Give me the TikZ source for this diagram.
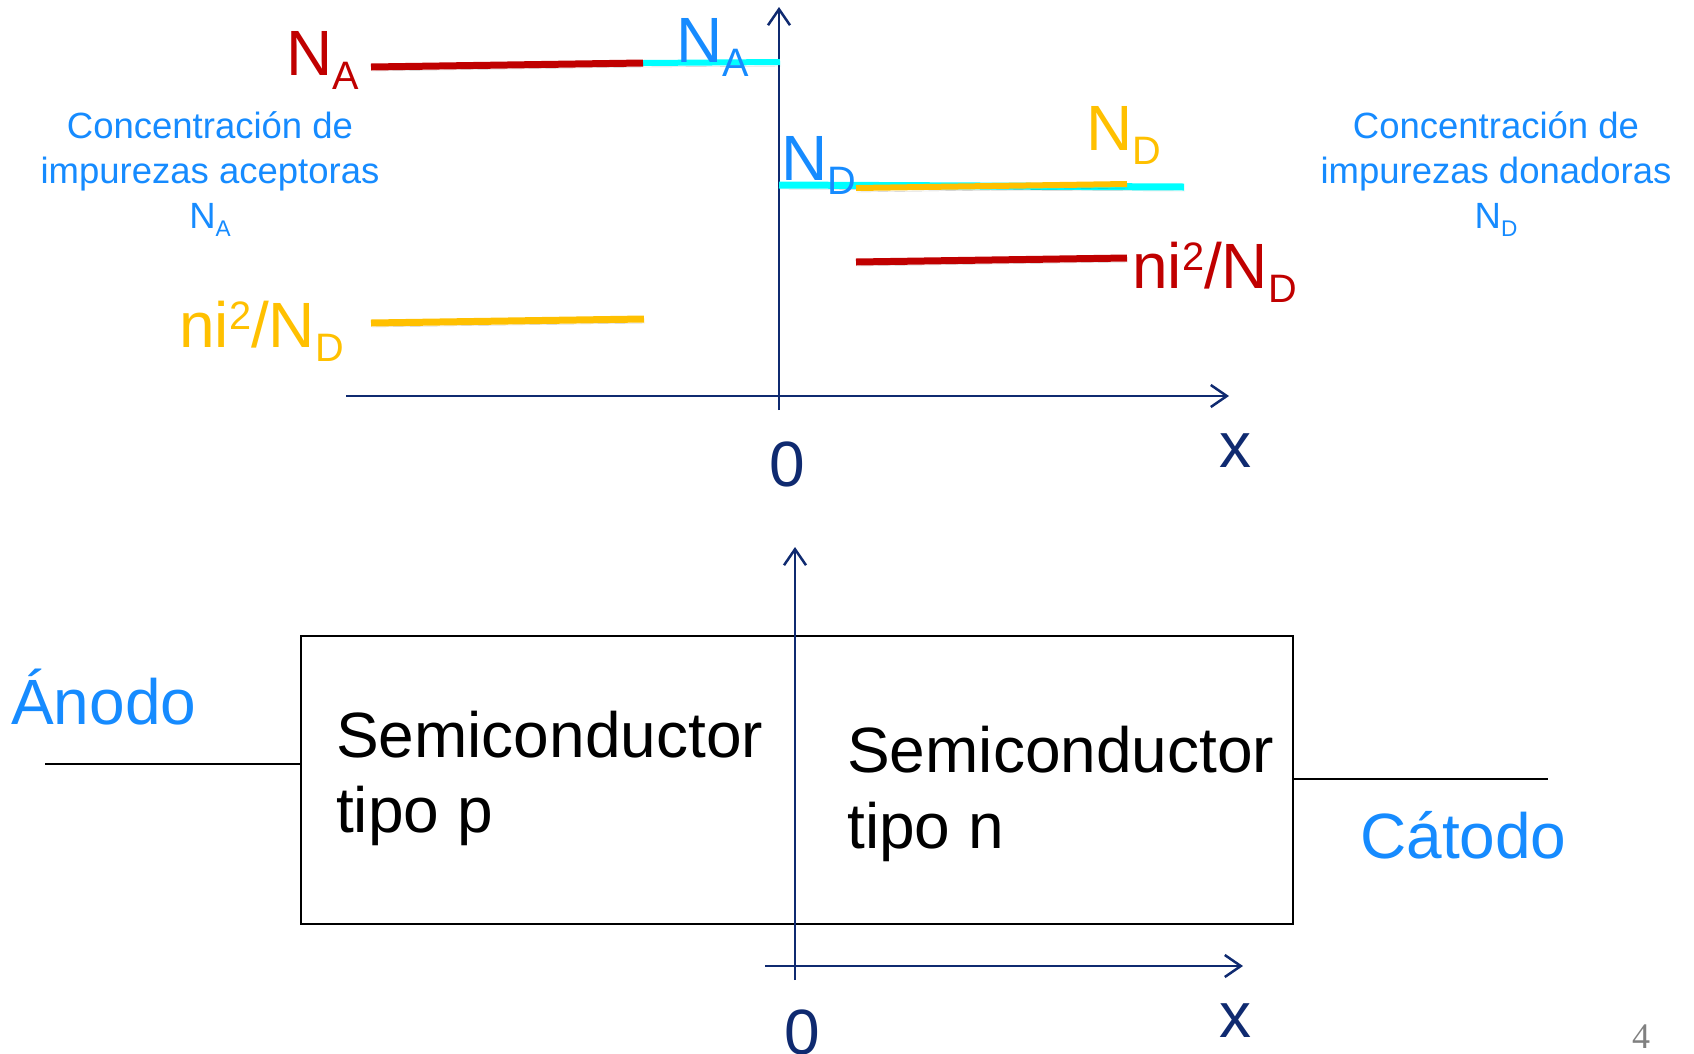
\documentclass[tikz,border=0pt]{standalone}
\usepackage{fontspec}
\setmainfont{Liberation Sans}
\newfontfamily\seriffont{Liberation Serif}
\usepackage{graphicx}
\usetikzlibrary{arrows.meta}
\definecolor{cred}{HTML}{C00000}
\definecolor{ccyan}{HTML}{00FFFF}
\definecolor{corange}{HTML}{FFC000}
\definecolor{cblue}{HTML}{168BFF}
\definecolor{cnavy}{HTML}{0F2A70}
\newcommand\dsub[1]{\raisebox{-0.23em}{\scalebox{0.62}{#1}}}
\newcommand\dsup[1]{\raisebox{0.28em}{\scalebox{0.62}{#1}}}
\newcommand\fbig{\fontsize{64}{77}\selectfont}
\newcommand\fmid{\fontsize{36.5}{45}\selectfont}
\begin{document}
\begin{tikzpicture}[x=1pt,y=-1pt,
  lbl/.style={inner sep=0pt, anchor=base west, font=\fbig},
  captxt/.style={inner sep=0pt, anchor=base, font=\fmid, text=cblue},
  axis/.style={draw=cnavy, line width=2.5pt, -{Straight Barb[length=16pt,width=22pt,line width=2.5pt]}},
  level/.style={line width=7pt, preaction={draw=black, draw opacity=0.22, transform canvas={shift={(1pt,-4pt)}}}},
  wire/.style={draw=black, line width=2pt}]
\useasboundingbox (0,0) rectangle (1694,1053);

% ---------- top graph ----------
\coordinate (yaxb) at (779,410);
\coordinate (yaxt) at (779,7);
\coordinate (xaxl) at (346,396);
\coordinate (xaxr) at (1229,396);
\draw[axis] (yaxb) -- (yaxt);
\draw[axis] (xaxl) -- (xaxr);

\coordinate (naL) at (371,67);
\coordinate (naM) at (643,63);
\coordinate (naR) at (780,62);
\coordinate (ndL) at (779,185);
\coordinate (ndR) at (1184,187);
\coordinate (oL) at (856,188);
\coordinate (oR) at (1127,184);
\coordinate (rL) at (856,262);
\coordinate (rR) at (1127,258);
\coordinate (pL) at (371,323);
\coordinate (pR) at (644,319);

\draw[level, draw=ccyan, line width=6pt] (naM) -- (naR);
\draw[level, draw=cred] (naL) -- (naM);
\draw[level, draw=ccyan] (ndL) -- (ndR);
\draw[level, draw=corange, line width=6pt] (oL) -- (oR);
\draw[level, draw=cred] (rL) -- (rR);
\draw[level, draw=corange] (pL) -- (pR);

\node[lbl, text=cred] (naRed) at (286,75) {N\dsub{A}};
\node[lbl, text=cblue] (naBlue) at (676,62) {N\dsub{A}};
\node[lbl, text=cblue] (ndBlue) at (781,180) {N\dsub{D}};
\node[lbl, text=corange] (ndOr) at (1086,150) {N\dsub{D}};
\node[lbl, text=cred] (niRed) at (1132,288) {ni\dsup{2}/N\dsub{D}};
\node[lbl, text=corange] (niOr) at (179,347) {ni\dsup{2}/N\dsub{D}};

\node[inner sep=0pt, anchor=base, font=\fbig, text=cnavy] (zeroTop) at (787,486) {0};
\node[inner sep=0pt, anchor=base, font=\fbig, text=cnavy] (xTop) at (1235,467) {x};

\node[captxt] (la1) at (210,138) {Concentración de};
\node[captxt] (la2) at (210,183) {impurezas aceptoras};
\node[captxt] (la3) at (210,228) {N\dsub{A}};
\node[captxt] (ld1) at (1496,138) {Concentración de};
\node[captxt] (ld2) at (1496,183) {impurezas donadoras};
\node[captxt] (ld3) at (1496,228) {N\dsub{D}};

% ---------- bottom diagram ----------
\node[draw=black, line width=2pt, minimum width=992pt, minimum height=288pt, inner sep=0pt, outer sep=0pt, anchor=north west] (box) at (301,636) {};
\coordinate (aw) at (45,764);
\coordinate (cw) at (1548,779);
\draw[wire] (aw) -- (aw -| box.west);
\draw[wire] (box.east |- cw) -- (cw);

\coordinate (byb) at (795,980);
\coordinate (byt) at (795,547);
\coordinate (bxl) at (765,966);
\coordinate (bxr) at (1243,966);
\draw[axis] (byb) -- (byt);
\draw[axis] (bxl) -- (bxr);

\node[lbl, text=cblue] (anodo) at (11,724) {Ánodo};
\node[lbl, text=cblue] (catodo) at (1360,858) {Cátodo};
\node[lbl, text=black] (sp1) at (336,757) {Semiconductor};
\node[lbl, text=black] (sp2) at (336,832) {tipo p};
\node[lbl, text=black] (sn1) at (847,772) {Semiconductor};
\node[lbl, text=black] (sn2) at (847,848) {tipo n};

\node[inner sep=0pt, anchor=base, font=\fbig, text=cnavy] (zeroBot) at (802,1054) {0};
\node[inner sep=0pt, anchor=base, font=\fbig, text=cnavy] (xBot) at (1235,1037) {x};
\node[inner sep=0pt, anchor=base, font=\seriffont\fontsize{36}{40}\selectfont, text=gray] (page) at (1641,1048) {4};
\end{tikzpicture}
\end{document}
